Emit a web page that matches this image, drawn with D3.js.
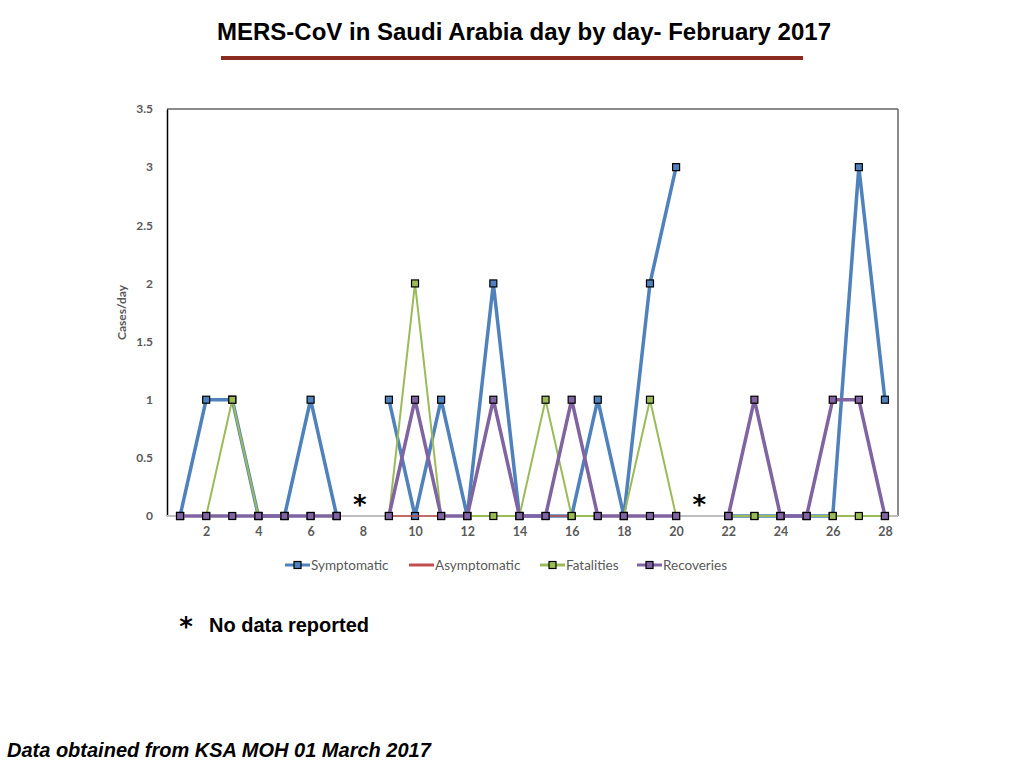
<!DOCTYPE html>
<html>
<head>
<meta charset="utf-8">
<script src="https://cdn.jsdelivr.net/npm/d3@7"></script>
<style>
  body { margin: 0; background: #fff; }
  svg { display: block; }
</style>
</head>
<body>
<svg id="plot"></svg>
<script>
// Data (null = no data reported)
const days = d3.range(1, 29);
const symptomatic  = [0,1,1,0,0,1,0,null,1,0,1,0,2,0,0,0,1,0,2,3,null,0,0,0,0,0,3,1];
const asymptomatic = [0,0,0,0,0,0,0,null,0,0,0,0,0,0,0,0,0,0,0,0,null,0,0,0,0,0,0,0];
const fatalities   = [0,0,1,0,0,0,0,null,0,2,0,0,0,0,1,0,0,0,1,0,null,0,0,0,0,0,0,0];
const recoveries   = [0,0,0,0,0,0,0,null,0,1,0,0,1,0,0,1,0,0,0,0,null,0,1,0,0,1,1,0];
const noDataDays = [8, 21];
const yTicks = [0, 0.5, 1, 1.5, 2, 2.5, 3, 3.5];
const xTickDays = [2, 4, 6, 8, 10, 12, 14, 16, 18, 20, 22, 24, 26, 28];

const series = [
  { name: "Symptomatic",  values: symptomatic,  color: "#4F81BD", width: 3.5, marker: true },
  { name: "Asymptomatic", values: asymptomatic, color: "#C0504D", width: 1.5, marker: false },
  { name: "Fatalities",   values: fatalities,   color: "#9BBB59", width: 2,   marker: true },
  { name: "Recoveries",   values: recoveries,   color: "#8064A2", width: 3.5, marker: true }
];

const W = 1024, H = 768;
const plot = { left: 167, right: 898, top: 109, bottom: 516 };

const svg = d3.select("#plot")
    .attr("width", W)
    .attr("height", H);

// Title with underline
svg.append("text")
    .attr("x", 524)
    .attr("y", 40)
    .attr("text-anchor", "middle")
    .style("font-family", "'Liberation Sans', Arial, sans-serif")
    .style("font-weight", "bold")
    .style("font-size", "24px")
    .text("MERS-CoV in Saudi Arabia day by day- February 2017");

svg.append("rect")
    .attr("x", 221)
    .attr("y", 56)
    .attr("width", 582)
    .attr("height", 4)
    .attr("fill", "#8B2A1E");

// Scales
const x = d3.scalePoint()
    .domain(days)
    .range([plot.left, plot.right])
    .padding(0.5);

const y = d3.scaleLinear()
    .domain([0, 3.5])
    .range([plot.bottom, plot.top]);

const tickFont = "Lato, 'Open Sans', sans-serif";

// Frame: top and right gray, left black
svg.append("line")
    .attr("x1", plot.left).attr("x2", plot.right)
    .attr("y1", plot.top).attr("y2", plot.top)
    .attr("stroke", "#666").attr("stroke-width", 1.5);
svg.append("line")
    .attr("x1", plot.right).attr("x2", plot.right)
    .attr("y1", plot.top).attr("y2", plot.bottom)
    .attr("stroke", "#666").attr("stroke-width", 1.5);

// Y axis
const yAxis = svg.append("g")
    .attr("transform", "translate(" + plot.left + ",0)")
    .call(d3.axisLeft(y).tickValues(yTicks).tickSize(0).tickPadding(14).tickFormat(d3.format("")));
yAxis.select(".domain").attr("stroke", "#000").attr("stroke-width", 1.5);
yAxis.selectAll("text")
    .style("font-family", tickFont)
    .style("font-weight", "bold")
    .style("font-size", "12px")
    .attr("fill", "#595959");

// X axis
const xAxis = svg.append("g")
    .attr("transform", "translate(0," + plot.bottom + ")")
    .call(d3.axisBottom(x).tickValues(xTickDays).tickSize(0).tickPadding(11));
xAxis.select(".domain")
    .attr("d", "M" + plot.left + ",0H" + plot.right)
    .attr("stroke", "#BFBFBF").attr("stroke-width", 2);
xAxis.selectAll("text")
    .style("font-family", tickFont)
    .style("font-weight", "bold")
    .style("font-size", "12.5px")
    .attr("fill", "#595959");

// Y axis label
svg.append("text")
    .attr("transform", "translate(126," + ((plot.top + plot.bottom) / 2) + ") rotate(-90)")
    .attr("text-anchor", "middle")
    .style("font-family", tickFont)
    .style("font-weight", "bold")
    .style("font-size", "12px")
    .attr("fill", "#595959")
    .text("Cases/day");

// Lines and markers
const line = d3.line()
    .defined(d => d.v !== null)
    .x(d => x(d.day))
    .y(d => y(d.v));

series.forEach(function(s) {
  const pts = days.map((day, i) => ({ day: day, v: s.values[i] }));
  svg.append("path")
      .datum(pts)
      .attr("fill", "none")
      .attr("stroke", s.color)
      .attr("stroke-width", s.width)
      .attr("stroke-linejoin", "round")
      .attr("d", line);
  if (s.marker) {
    svg.append("g").selectAll("rect")
        .data(pts.filter(d => d.v !== null))
        .enter().append("rect")
        .attr("x", d => x(d.day) - 3.5)
        .attr("y", d => y(d.v) - 3.5)
        .attr("width", 7)
        .attr("height", 7)
        .attr("fill", s.color)
        .attr("stroke", "#000")
        .attr("stroke-width", 1.2);
  }
});

// Asterisks for days without data
svg.selectAll(".nodata")
    .data(noDataDays)
    .enter().append("text")
    .attr("class", "nodata")
    .attr("x", d => x(d) - 3)
    .attr("y", y(0) - 2)
    .attr("text-anchor", "middle")
    .style("font-family", "'DejaVu Sans', sans-serif")
    .style("font-weight", "bold")
    .style("font-size", "26px")
    .attr("fill", "#000")
    .text("*");

// Legend
const legendX = [285, 409, 540, 637];
const legend = svg.append("g");
series.forEach(function(s, i) {
  const g = legend.append("g").attr("transform", "translate(" + legendX[i] + ",565)");
  g.append("line")
      .attr("x1", 0).attr("x2", 25)
      .attr("stroke", s.color)
      .attr("stroke-width", 3);
  if (s.marker) {
    g.append("rect")
        .attr("x", 9).attr("y", -3.5)
        .attr("width", 7).attr("height", 7)
        .attr("fill", s.color)
        .attr("stroke", "#000")
        .attr("stroke-width", 1.2);
  }
  g.append("text")
      .attr("x", 26)
      .attr("y", 5)
      .style("font-family", tickFont)
      .style("font-size", "13.5px")
      .attr("fill", "#595959")
      .text(s.name);
});

// Notes
svg.append("text")
    .attr("x", 186)
    .attr("y", 636)
    .attr("text-anchor", "middle")
    .style("font-family", "'DejaVu Sans', sans-serif")
    .style("font-weight", "bold")
    .style("font-size", "26px")
    .text("*");

svg.append("text")
    .attr("x", 209)
    .attr("y", 632)
    .style("font-family", "'Liberation Sans', Arial, sans-serif")
    .style("font-weight", "bold")
    .style("font-size", "20px")
    .text("No data reported");

svg.append("text")
    .attr("x", 7)
    .attr("y", 757)
    .style("font-family", "'Liberation Sans', Arial, sans-serif")
    .style("font-weight", "bold")
    .style("font-style", "italic")
    .style("font-size", "20px")
    .text("Data obtained from KSA MOH 01 March 2017");
</script>
</body>
</html>
